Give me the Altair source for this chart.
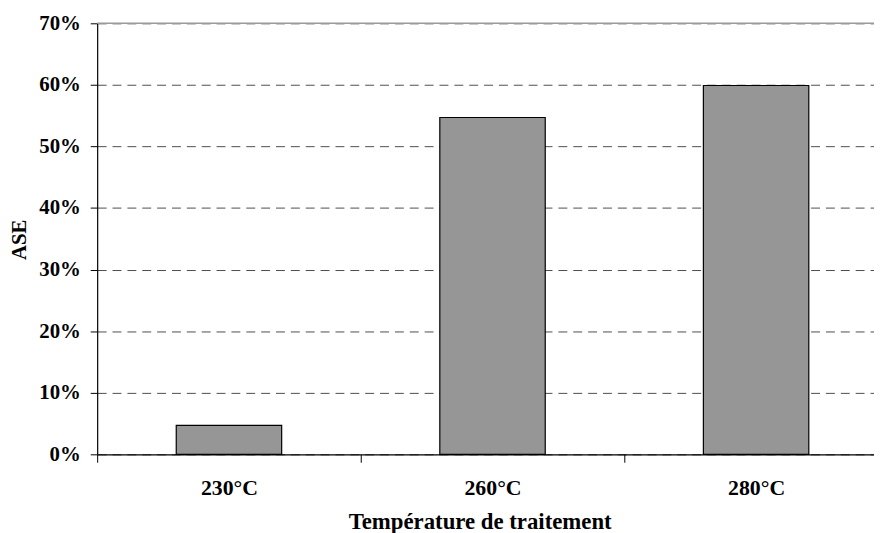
import altair as alt
import pandas as pd

categories = ["230°C", "260°C", "280°C"]
values = [0.047, 0.547, 0.599]
y_ticks = [0, 0.1, 0.2, 0.3, 0.4, 0.5, 0.6, 0.7]

df = pd.DataFrame({"cat": categories, "val": values})

FONT = "Liberation Serif"

bars = alt.Chart(df).mark_bar(color="#969696", stroke="black", strokeWidth=1.2,
                              width=alt.RelativeBandSize(0.4)).encode(
    x=alt.X("cat:N", sort=categories,
            scale=alt.Scale(range=[0, 798], paddingInner=0, paddingOuter=0),
            axis=alt.Axis(title="Température de traitement", labelAngle=0,
                          labelFont=FONT, labelFontSize=22, labelFontWeight="bold",
                          labelColor="black", labelPadding=33, labelBaseline="alphabetic",
                          titleFont=FONT, titleFontSize=23, titleFontWeight="bold",
                          titleColor="black", titleX=386, titleY=75,
                          titleBaseline="alphabetic", titleAlign="center",
                          tickBand="extent", tickSize=8, tickColor="black",
                          domainColor="black", domainWidth=1.2, grid=False)),
    y=alt.Y("val:Q", scale=alt.Scale(domain=[0, 0.7], nice=False),
            axis=alt.Axis(title="ASE", format=".0%", values=y_ticks,
                          labelFont=FONT, labelFontSize=21, labelFontWeight="bold",
                          labelColor="black", labelPadding=10,
                          titleFont=FONT, titleFontSize=21, titleFontWeight="bold",
                          titleColor="black", titleX=-78, titleY=218,
                          titleBaseline="middle", titleAlign="center",
                          tickSize=7, tickColor="black", domainColor="black", domainWidth=1.2,
                          grid=True, gridColor="#4d4d4d", gridDash=[9, 6], gridWidth=1)),
)

top = alt.Chart(pd.DataFrame({"v": [0.7]})).mark_rule(color="#999999", strokeWidth=1.5).encode(
    y=alt.Y("v:Q", scale=alt.Scale(domain=[0, 0.7], nice=False))
)

chart = alt.layer(bars, top).properties(
    width=784, height=435,
    autosize=alt.AutoSizeParams(type="none"),
    padding={"left": 90, "top": 13, "right": 0, "bottom": 82},
).configure_view(stroke=None)

chart.save("out.html", embed_options={"renderer": "svg", "actions": False})
